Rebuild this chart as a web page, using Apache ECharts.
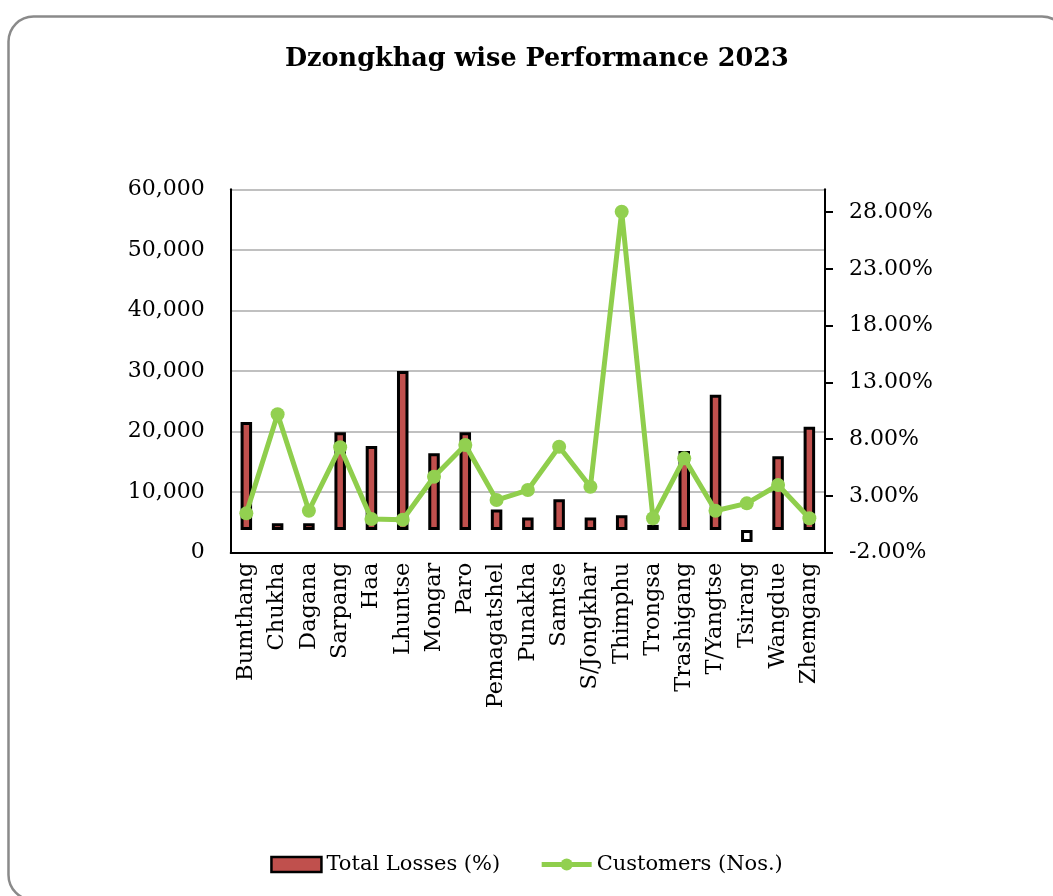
<!DOCTYPE html>
<html>
<head>
<meta charset="utf-8">
<script src="https://cdn.jsdelivr.net/npm/echarts@6/dist/echarts.min.js"></script>
<style>
html,body{margin:0;padding:0;background:#fff;}
#chart{width:1053px;height:896px;}
</style>
</head>
<body>
<div id="chart"></div>
<script>
var categories = ['Bumthang','Chukha','Dagana','Sarpang','Haa','Lhuntse','Mongar','Paro','Pemagatshel','Punakha','Samtse','S/Jongkhar','Thimphu','Trongsa','Trashigang','T/Yangtse','Tsirang','Wangdue','Zhemgang'];
var lossesPct = [9.5, 0.6, 0.6, 8.6, 7.4, 14.0, 6.75, 8.6, 1.8, 1.1, 2.7, 1.1, 1.3, 0.45, 6.95, 11.9, -1.05, 6.5, 9.1];
var customers = [6500, 22850, 6930, 17400, 5560, 5450, 12550, 17780, 8700, 10350, 17500, 10900, 56300, 5680, 15580, 6930, 8150, 11180, 5680];
var rightTicks = [-2, 3, 8, 13, 18, 23, 28];

var FONT = 'DejaVu Serif';
var chart = echarts.init(document.getElementById('chart'), null, {renderer:'canvas'});

var barData = lossesPct.map(function(v){
  return v < 0 ? {value: v, itemStyle: {color: '#ffffff'}} : v;
});

chart.setOption({
  animation: false,
  backgroundColor: '#ffffff',
  graphic: [{
    type: 'rect',
    shape: {x: 8.5, y: 16.5, width: 1058.5, height: 883.5, r: 25},
    style: {fill: 'none', stroke: '#8a8a8a', lineWidth: 2.5},
    silent: true, z: -10
  }],
  title: {
    text: 'Dzongkhag wise Performance 2023',
    left: 280,
    top: 41,
    textStyle: {fontFamily: FONT, fontWeight: 'bold', fontSize: 25.5, color: '#000'}
  },
  legend: {
    bottom: 16,
    left: 'center',
    itemWidth: 50,
    itemHeight: 15,
    itemGap: 39,
    textStyle: {fontFamily: FONT, fontSize: 21, color: '#000'},
    data: [
      {name: 'Total Losses (%)', icon: 'rect', itemStyle: {borderColor: '#000', borderWidth: 2.5}},
      {name: 'Customers (Nos.)', lineStyle: {width: 5}}
    ]
  },
  grid: {left: 230.7, right: 228, top: 189.3, bottom: 343.3, containLabel: false},
  xAxis: {
    type: 'category',
    data: categories,
    boundaryGap: true,
    axisLine: {lineStyle: {color: '#000', width: 2}},
    axisTick: {show: false},
    axisLabel: {rotate: 90, margin: 10, interval: 0, fontFamily: FONT, fontSize: 22.5, color: '#000'}
  },
  yAxis: [{
    type: 'value',
    min: 0, max: 60000, interval: 10000,
    axisLine: {show: true, lineStyle: {color: '#000', width: 2}},
    axisTick: {show: false},
    axisLabel: {margin: 26, fontFamily: FONT, fontSize: 22, color: '#000',
      formatter: function(v){ return v.toString().replace(/\B(?=(\d{3})+(?!\d))/g, ','); }},
    splitLine: {show: true, lineStyle: {color: '#c0c0c0', width: 2}}
  }, {
    type: 'value',
    position: 'right',
    min: -2, max: 30,
    axisLine: {show: true, lineStyle: {color: '#000', width: 2}},
    axisTick: {show: true, inside: false, length: 8, lineStyle: {color: '#000', width: 2}, customValues: rightTicks},
    axisLabel: {margin: 24, fontFamily: FONT, fontSize: 22, color: '#000', customValues: rightTicks,
      formatter: function(v){ return v.toFixed(2) + '%'; }},
    splitLine: {show: false}
  }],
  series: [{
    name: 'Total Losses (%)',
    type: 'bar',
    yAxisIndex: 1,
    data: barData,
    barWidth: 11.5,
    itemStyle: {color: '#c0504d', borderColor: '#000', borderWidth: 3},
    z: 2
  }, {
    name: 'Customers (Nos.)',
    type: 'line',
    yAxisIndex: 0,
    data: customers,
    symbol: 'circle',
    symbolSize: 14,
    lineStyle: {color: '#8fce4c', width: 5},
    itemStyle: {color: '#92d050'},
    z: 3
  }]
});
</script>
</body>
</html>
